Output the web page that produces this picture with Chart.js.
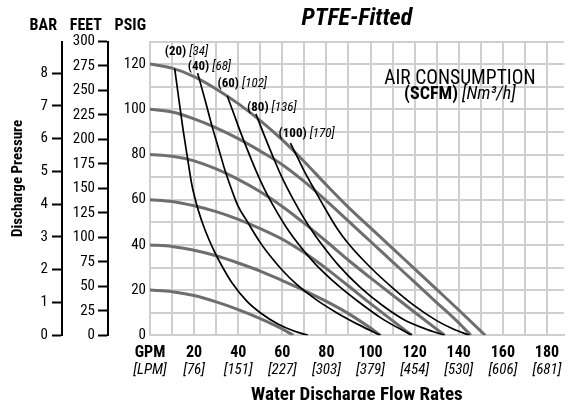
<!DOCTYPE html>
<html>
<head>
<meta charset="utf-8">
<script src="https://cdn.jsdelivr.net/npm/chart.js@4/dist/chart.umd.min.js"></script>
<style>html, body { margin: 0; background: #fff; }</style>
</head>
<body>
<canvas id="chart" width="569" height="400"></canvas>
<script>
// ── Data ─────────────────────────────────────────────────────────────────────
// x tick labels every 20 GPM, from 0 to 180
const gpmTickLabels = ["GPM", "20", "40", "60", "80", "100", "120", "140", "160", "180"];
const lpmTickLabels = ["[LPM]", "[76]", "[151]", "[227]", "[303]", "[379]", "[454]", "[530]", "[606]", "[681]"];

// gray curves: discharge pressure at a constant air inlet pressure (psig)
const air20Gpm   = [0, 10, 20, 30, 40, 50, 60, 65];
const air20Psig  = [20, 19.3, 17.6, 14.8, 11.4, 7.4, 2.8, 0];
const air40Gpm   = [0, 10, 20, 30, 40, 50, 60, 70, 80, 90, 100, 104.5];
const air40Psig  = [40, 39.3, 37.6, 35.2, 32, 28.4, 24.2, 19.8, 15, 9.6, 3.2, 0];
const air60Gpm   = [0, 10, 20, 30, 40, 50, 60, 70, 80, 90, 100, 110, 118.7];
const air60Psig  = [60, 59.2, 57.3, 54.7, 51.3, 47.2, 42.5, 36.5, 29.5, 21.8, 14, 6.5, 0];
const air80Gpm   = [0, 10, 20, 30, 40, 50, 60, 70, 80, 90, 100, 110, 120, 133.6];
const air80Psig  = [80, 79.2, 77.2, 73.6, 69, 63.5, 57, 49.5, 41.5, 33.2, 25.4, 17.8, 10.2, 0];
const air100Gpm  = [0, 10, 20, 30, 40, 50, 60, 70, 80, 90, 100, 110, 120, 130, 140, 145.5];
const air100Psig = [100, 98.8, 95.8, 91.8, 87, 81.5, 75.5, 68, 59.5, 50.5, 41.5, 32.5, 23.5, 14.5, 5.5, 0];
const air120Gpm  = [0, 10, 20, 30, 40, 50, 60, 70, 80, 90, 100, 110, 120, 130, 140, 152];
const air120Psig = [120, 118.2, 114.5, 109, 102.5, 95, 86.5, 76.8, 66.5, 56.6, 47.5, 38.5, 29.4, 20.3, 11.2, 0];

// black curves: constant air consumption (SCFM)
const scfm20Gpm   = [11.2, 13, 15, 17, 19, 22, 25, 29, 33, 37, 44, 50, 58, 65, 71.6];
const scfm20Psig  = [118, 105, 91, 78.5, 66.5, 55, 46.5, 37.5, 30, 23.5, 15, 10, 5, 2, 0];
const scfm40Gpm   = [21.6, 25, 28, 31, 34, 37, 40, 44, 50, 55, 60, 66, 75, 85, 95, 104.5];
const scfm40Psig  = [116, 104, 93, 83, 73, 64.5, 57, 50.5, 41, 34.5, 28.8, 23, 16, 9.8, 4.5, 0];
const scfm60Gpm   = [35, 38, 41, 44, 48, 52, 57, 62, 68, 75, 85, 95, 105, 118.7];
const scfm60Psig  = [106, 98, 90, 82.5, 73, 64.5, 55.5, 47.5, 39.5, 31.5, 22.3, 14.5, 7.5, 0];
const scfm80Gpm   = [48, 52, 56, 60, 65, 70, 75, 80, 85, 95, 105, 115, 125, 133.6];
const scfm80Psig  = [98, 88, 78.5, 69.5, 60, 51.5, 44, 37.5, 31.5, 21.5, 13.5, 7, 2.8, 0];
const scfm100Gpm  = [63.7, 67, 70, 74, 78, 85, 90, 100, 110, 120, 130, 137, 144.8];
const scfm100Psig = [85, 78.5, 72.5, 65.5, 58.5, 47, 40.5, 30, 21, 13, 6.5, 3, 0];

// curve labels: SCFM and Nm3/h, anchored at (GPM, PSIG)
const scfmValues    = [20, 40, 60, 80, 100];
const nm3hValues    = [34, 68, 102, 136, 170];
const scfmLabelGpm  = [6.7, 17.1, 30.6, 44, 58.3];
const scfmLabelPsig = [125.3, 118.9, 111.2, 100.9, 89];

const PSI_PER_BAR = 14.5038;
const FEET_MAX    = 300;   // 130 psig of water head

// ── Styles ───────────────────────────────────────────────────────────────────
const C = { text: "#000", grid: "#cfcfcf", air: "#6e6e6e", scfm: "#000" };
const FAM = "Roboto";
const font = (size, weight = "condensed", style = "normal", lineHeight = 1.2) => ({ family: FAM, size, weight, style, lineHeight });
const fontStr = (size, weight = "condensed", style = "normal") => `${style} ${weight} ${size}px ${FAM}`;

const pts = (xs, ys) => xs.map((x, i) => ({ x, y: ys[i] }));

const airDs = (gpm, psig) => ({
    data: pts(gpm, psig), borderColor: C.air, borderWidth: 3, order: 2,
});
const scfmDs = (gpm, psig) => ({
    data: pts(gpm, psig), borderColor: C.scfm, borderWidth: 1.7, order: 1,
});

// ── Text that sits on the plot (labels, legend, header) ──────────────────────
function richText(ctx, parts, x, y, align) {
    let total = 0;
    parts.forEach(([t, f]) => { ctx.font = f; total += ctx.measureText(t).width; });
    let cx = align === "center" ? x - total / 2 : x;
    parts.forEach(([t, f]) => {
        ctx.font = f;
        ctx.fillText(t, cx, y);
        cx += ctx.measureText(t).width;
    });
}

const annotations = {
    id: "annotations",
    afterDatasetsDraw(chart) {
        const { ctx, scales, chartArea } = chart;
        const sx = scales.x, sy = scales.y;
        ctx.save();
        ctx.fillStyle = C.text;
        ctx.textBaseline = "middle";
        ctx.textAlign = "left";

        scfmValues.forEach((v, i) => {
            richText(ctx, [
                [`(${v}) `, fontStr(13, "condensed bold")],
                [`[${nm3hValues[i]}]`, fontStr(13, "condensed", "italic")],
            ], sx.getPixelForValue(scfmLabelGpm[i]), sy.getPixelForValue(scfmLabelPsig[i]), "left");
        });

        const lx = sx.getPixelForValue(140.5);
        richText(ctx, [["AIR CONSUMPTION", fontStr(19.5)]], lx, sy.getPixelForValue(113.2), "center");
        richText(ctx, [
            ["(SCFM) ", fontStr(18, "condensed bold")],
            ["[Nm³/h]", fontStr(18, "condensed", "italic")],
        ], lx, sy.getPixelForValue(106.6), "center");

        // unit header above the three pressure scales
        ctx.textAlign = "right";
        ctx.font = fontStr(16, "condensed bold");
        const hy = chartArea.top - 15.5;
        ctx.fillText("BAR",  scales.yBar.right - 5,  hy);
        ctx.fillText("FEET", scales.yFeet.right - 6, hy);
        ctx.fillText("PSIG", scales.y.right - 4,     hy);

        // shared axis title, to the left of the bar scale
        ctx.translate(18, (chartArea.top + chartArea.bottom) / 2 - 10);
        ctx.rotate(-Math.PI / 2);
        ctx.textAlign = "center";
        ctx.font = fontStr(15, "condensed bold");
        ctx.fillText("Discharge Pressure", 0, 0);
        ctx.restore();
    },
};

// ── Chart ────────────────────────────────────────────────────────────────────
new Chart(document.getElementById("chart").getContext("2d"), {
    type: "line",
    data: {
        datasets: [
            airDs(air20Gpm, air20Psig),
            airDs(air40Gpm, air40Psig),
            airDs(air60Gpm, air60Psig),
            airDs(air80Gpm, air80Psig),
            airDs(air100Gpm, air100Psig),
            airDs(air120Gpm, air120Psig),
            scfmDs(scfm20Gpm, scfm20Psig),
            scfmDs(scfm40Gpm, scfm40Psig),
            scfmDs(scfm60Gpm, scfm60Psig),
            scfmDs(scfm80Gpm, scfm80Psig),
            scfmDs(scfm100Gpm, scfm100Psig),
        ],
    },
    options: {
        responsive: false,
        animation: false,
        events: [],
        elements: {
            point: { radius: 0 },
            line: { cubicInterpolationMode: "monotone", fill: false, borderCapStyle: "butt" },
        },
        layout: { padding: 0 },
        plugins: {
            legend: { display: false },
            tooltip: { enabled: false },
            title: {
                display: true,
                fullSize: false,
                text: "PTFE-Fitted",
                color: C.text,
                font: font(24, "condensed bold", "italic"),
                padding: { top: 5, bottom: 7.7 },
            },
        },
        scales: {
            x: {
                type: "linear",
                position: "bottom",
                min: 0,
                max: 187.6,
                grid: { color: C.grid, lineWidth: 2, drawTicks: false },
                border: { color: C.grid, width: 2 },
                ticks: {
                    stepSize: 10,
                    includeBounds: false,
                    autoSkip: false,
                    maxRotation: 0,
                    padding: 9.7,
                    color: C.text,
                    font: font(16, "condensed bold", "normal", 1),
                    callback: (v) => (Math.round(v) % 20 === 0 ? gpmTickLabels[Math.round(v) / 20] : ""),
                },
                afterFit: (s) => { s.height = 25.7; },
            },
            x2: {
                type: "linear",
                position: "bottom",
                weight: 1,
                min: 0,
                max: 187.6,
                grid: { display: false, drawTicks: false },
                border: { display: false },
                ticks: {
                    stepSize: 20,
                    includeBounds: false,
                    autoSkip: false,
                    maxRotation: 0,
                    padding: 0.6,
                    color: C.text,
                    font: font(15, "condensed", "italic"),
                    callback: (v) => lpmTickLabels[Math.round(v) / 20],
                },
                title: {
                    display: true,
                    text: "Water Discharge Flow Rates",
                    color: C.text,
                    font: font(19, "condensed bold"),
                    padding: { top: 0, bottom: -7 },
                },
                afterFit: (s) => { s.height = 39; },
            },
            y: {
                position: "left",
                weight: 1,
                min: 0,
                max: 130,
                grid: { color: C.grid, lineWidth: 2, drawTicks: false },
                border: { color: C.grid, width: 2 },
                ticks: {
                    stepSize: 10,
                    includeBounds: false,
                    padding: 4,
                    color: C.text,
                    font: font(15),
                    callback: (v) => (Math.round(v) % 20 === 0 ? String(Math.round(v)) : ""),
                },
                afterFit: (s) => { s.width = 42; },
            },
            yFeet: {
                position: "left",
                weight: 2,
                min: 0,
                max: FEET_MAX,
                grid: { drawOnChartArea: false, drawTicks: true, tickLength: 10, tickWidth: 2, tickColor: C.text },
                border: { color: C.text, width: 2 },
                ticks: {
                    stepSize: 25, autoSkip: false, padding: 3, color: C.text, font: font(15),
                    callback: (v) => String(Math.round(v)),
                },
                afterFit: (s) => { s.width = 46; },
            },
            yBar: {
                position: "left",
                weight: 3,
                min: 0,
                max: 130 / PSI_PER_BAR,
                grid: { drawOnChartArea: false, drawTicks: true, tickLength: 10, tickWidth: 2, tickColor: C.text },
                border: { color: C.text, width: 2 },
                ticks: {
                    stepSize: 1, includeBounds: false, autoSkip: false, padding: 4, color: C.text, font: font(15),
                    callback: (v) => String(Math.round(v)),
                },
                afterFit: (s) => { s.width = 62; },
            },
        },
    },
    plugins: [annotations],
});
</script>
</body>
</html>
